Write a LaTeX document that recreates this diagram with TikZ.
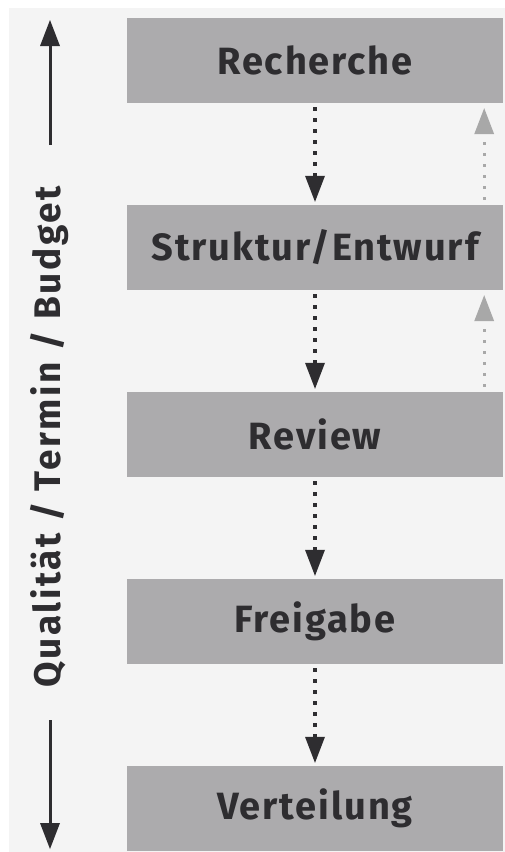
\documentclass[tikz,border=0pt]{standalone}
\usepackage{fontspec}
\setmainfont{Fira Sans}
\newfontfamily\boxfont[LetterSpace=5]{Fira Sans}
\newfontfamily\axisfont[LetterSpace=7]{Fira Sans}
\usetikzlibrary{arrows.meta}
\definecolor{bg}{HTML}{F4F4F4}
\definecolor{boxgray}{HTML}{ACABAD}
\definecolor{txt}{HTML}{2E2D30}
\definecolor{upgray}{HTML}{A8A8A8}
\begin{document}
\begin{tikzpicture}[x=1pt,y=1pt,
  stage/.style={fill=boxgray, draw=none, minimum width=376pt, minimum height=85pt,
    inner sep=0pt, text=txt, font=\boxfont\fontsize{38}{40}\selectfont\bfseries},
  downflow/.style={draw=txt, line width=4pt, dash pattern=on 4pt off 7pt,
    -{Triangle[width=20pt,length=26pt,line width=0pt]}, shorten <=4pt, shorten >=3pt},
  upflow/.style={draw=upgray, line width=3pt, dash pattern=on 3pt off 8pt,
    -{Triangle[width=20pt,length=26pt,line width=0pt]}},
  axis/.style={draw=txt, line width=3pt, -{Triangle[width=20pt,length=26pt,line width=0pt]}}
]
\useasboundingbox (0,0) rectangle (505,-852);
\fill[white] (0,0) rectangle (505,-852);
\fill[bg] (9,-8) rectangle (505,-852);

\node[stage] (r) at (315,-60.5) {Recherche};
\node[stage] (s) at (315,-247.5) {Struktur/Entwurf};
\node[stage] (v) at (315,-434.5) {Review};
\node[stage] (f) at (315,-621.5) {Freigabe};
\node[stage] (d) at (315,-808.5) {Verteilung};

\draw[downflow] (r) -- (s);
\draw[downflow] (s) -- (v);
\draw[downflow] (v) -- (f);
\draw[downflow] (f) -- (d);

\coordinate (u1a) at ([xshift=-19pt,yshift=5pt]s.north east);
\coordinate (u1b) at ([xshift=-19pt,yshift=-5pt]r.south east);
\coordinate (u2a) at ([xshift=-19pt,yshift=5pt]v.north east);
\coordinate (u2b) at ([xshift=-19pt,yshift=-5pt]s.south east);
\draw[upflow] (u1a) -- (u1b);
\draw[upflow] (u2a) -- (u2b);

\coordinate (at) at (50,-20);
\coordinate (ab) at (50,-145);
\coordinate (bt) at (50,-720);
\coordinate (bb) at (50,-849);
\draw[axis] (ab) -- (at);
\draw[axis] (bt) -- (bb);

\node[rotate=90, text=txt, font=\axisfont\fontsize{37}{40}\selectfont\bfseries] (lbl) at (50,-437) {Qualität / Termin / Budget};
\end{tikzpicture}
\end{document}
